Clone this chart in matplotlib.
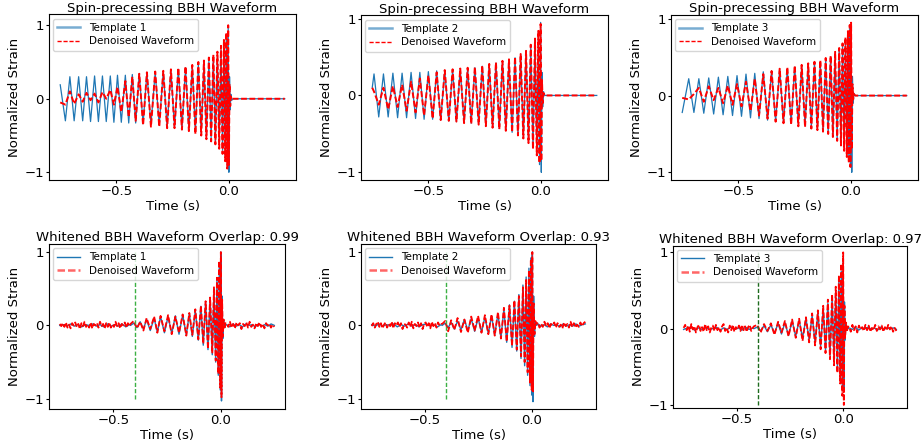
import numpy as np
import matplotlib
matplotlib.use("Agg")
import matplotlib.pyplot as plt

plt.rcParams['font.family'] = ['DejaVu Sans']

# ---------------- data (extrema) ----------------
TOP_TITLE = "Spin-precessing BBH Waveform"
BOTTOM_TITLES = ["Whitened BBH Waveform Overlap: 0.99",
                 "Whitened BBH Waveform Overlap: 0.93",
                 "Whitened BBH Waveform Overlap: 0.97"]
TEMPLATE_LABELS = ["Template 1", "Template 2", "Template 3"]
DENOISED_LABEL = "Denoised Waveform"
X_TICKS = [-0.5, 0.0]
Y_TICKS = [-1, 0, 1]
MARK_TIME = -0.4
MARK_SPAN = [-1.0, 1.0]
X_LIM = [-0.80, 0.30]
TOP_YLIMS = [[-1.105, 1.146], [-1.10, 1.04], [-1.10, 1.05]]
BOT_YLIMS = [[-1.14, 1.11], [-1.14, 1.11], [-1.04, 1.09]]

# --- top row panel 1
T1_TIME = [-0.750, -0.727, -0.707, -0.688, -0.668, -0.650, -0.633, -0.615, -0.597, -0.580,
           -0.562, -0.545, -0.527, -0.511, -0.495, -0.478, -0.460, -0.445, -0.429, -0.414,
           -0.398, -0.381, -0.364, -0.346, -0.327, -0.309, -0.291, -0.274, -0.257, -0.241,
           -0.224, -0.208, -0.192, -0.177, -0.162, -0.148, -0.135, -0.122, -0.110, -0.099,
           -0.088, -0.078, -0.068, -0.059, -0.050, -0.042, -0.034, -0.027, -0.021, -0.015,
           -0.010, -0.006, -0.002, 0.001, 0.004, 0.007, 0.010, 0.014, 0.020, 0.250]
T1_TEMPLATE = [0.19, -0.30, 0.30, -0.30, 0.30, -0.30, 0.30, -0.31, 0.31, -0.31,
               0.31, -0.31, 0.31, -0.32, 0.32, -0.32, 0.32, -0.33, 0.33, -0.33,
               0.34, -0.34, 0.35, -0.35, 0.36, -0.36, 0.37, -0.38, 0.38, -0.39,
               0.40, -0.41, 0.42, -0.43, 0.44, -0.45, 0.46, -0.47, 0.48, -0.50,
               0.51, -0.53, 0.55, -0.57, 0.59, -0.62, 0.66, -0.70, 0.75, -0.80,
               0.86, -0.92, 0.97, -1.00, 0.30, -0.15, 0.06, -0.02, 0.00, 0.00]
T1_DENOISED = [-0.05, -0.08, 0.10, -0.07, 0.06, -0.04, 0.08, -0.02, 0.07, -0.05,
               0.09, 0.00, 0.12, -0.08, 0.16, -0.18, 0.24, -0.25, 0.30, -0.30,
               0.34, -0.36, 0.36, -0.38, 0.37, -0.38, 0.38, -0.40, 0.40, -0.40,
               0.42, -0.42, 0.44, -0.44, 0.46, -0.48, 0.50, -0.50, 0.52, -0.55,
               0.56, -0.58, 0.60, -0.62, 0.64, -0.68, 0.72, -0.75, 0.80, -0.85,
               0.90, -0.95, 1.00, -0.90, 0.20, -0.10, 0.03, -0.01, 0.00, 0.00]

# --- top row panel 2
T2_TIME = [-0.750, -0.742, -0.721, -0.700, -0.679, -0.658, -0.637, -0.617, -0.597, -0.577,
           -0.557, -0.538, -0.519, -0.500, -0.481, -0.463, -0.445, -0.427, -0.409, -0.392,
           -0.375, -0.358, -0.341, -0.325, -0.309, -0.293, -0.276, -0.260, -0.244, -0.229,
           -0.214, -0.199, -0.184, -0.170, -0.155, -0.141, -0.127, -0.114, -0.101, -0.089,
           -0.077, -0.065, -0.054, -0.044, -0.034, -0.025, -0.017, -0.010, -0.005, 0.000,
           0.003, 0.006, 0.009, 0.013, 0.018, 0.250]
T2_TEMPLATE = [0.10, 0.28, -0.28, 0.28, -0.28, 0.29, -0.29, 0.29, -0.29, 0.30,
               -0.30, 0.30, -0.31, 0.31, -0.31, 0.32, -0.32, 0.32, -0.33, 0.33,
               -0.34, 0.34, -0.35, 0.35, -0.36, 0.36, -0.37, 0.38, -0.39, 0.40,
               -0.41, 0.42, -0.43, 0.44, -0.45, 0.46, -0.48, 0.49, -0.51, 0.53,
               -0.55, 0.57, -0.60, 0.63, -0.67, 0.72, -0.78, 0.84, -0.90, 0.95,
               -1.00, 0.30, -0.15, 0.05, 0.00, 0.00]
T2_DENOISED = [0.10, 0.05, -0.12, 0.10, -0.18, 0.12, -0.15, 0.14, -0.20, 0.18,
               -0.22, 0.22, -0.26, 0.26, -0.30, 0.30, -0.32, 0.33, -0.33, 0.34,
               -0.34, 0.35, -0.36, 0.36, -0.37, 0.37, -0.38, 0.39, -0.40, 0.41,
               -0.42, 0.43, -0.44, 0.45, -0.46, 0.47, -0.48, 0.50, -0.52, 0.54,
               -0.56, 0.58, -0.62, 0.66, -0.70, 0.74, -0.78, 0.84, -0.88, 0.93,
               -0.85, 0.20, -0.10, 0.03, 0.00, 0.00]

# --- top row panel 3
T3_TIME = [-0.750, -0.721, -0.698, -0.676, -0.654, -0.632, -0.610, -0.589, -0.568, -0.547,
           -0.526, -0.506, -0.486, -0.466, -0.446, -0.427, -0.408, -0.389, -0.370, -0.352,
           -0.334, -0.316, -0.299, -0.282, -0.265, -0.249, -0.233, -0.218, -0.203, -0.189,
           -0.175, -0.161, -0.148, -0.135, -0.123, -0.111, -0.100, -0.089, -0.079, -0.069,
           -0.060, -0.051, -0.043, -0.036, -0.029, -0.023, -0.017, -0.012, -0.008, -0.004,
           -0.001, 0.002, 0.005, 0.008, 0.011, 0.015, 0.020, 0.250]
T3_TEMPLATE = [-0.22, 0.22, -0.22, 0.22, -0.23, 0.23, -0.24, 0.24, -0.25, 0.25,
               -0.26, 0.26, -0.27, 0.28, -0.29, 0.29, -0.30, 0.31, -0.32, 0.32,
               -0.33, 0.34, -0.35, 0.35, -0.36, 0.37, -0.37, 0.38, -0.39, 0.40,
               -0.41, 0.42, -0.43, 0.44, -0.45, 0.47, -0.48, 0.50, -0.52, 0.54,
               -0.56, 0.58, -0.61, 0.64, -0.68, 0.72, -0.76, 0.80, -0.85, 0.88,
               -0.92, 0.93, -1.00, 0.25, -0.10, 0.03, 0.00, 0.00]
T3_DENOISED = [-0.03, -0.05, 0.02, 0.10, -0.08, 0.12, -0.06, 0.10, -0.10, 0.13,
               -0.12, 0.15, -0.14, 0.18, -0.20, 0.22, -0.26, 0.28, -0.30, 0.32,
               -0.34, 0.35, -0.36, 0.37, -0.38, 0.39, -0.40, 0.40, -0.41, 0.42,
               -0.43, 0.44, -0.45, 0.46, -0.47, 0.49, -0.50, 0.52, -0.54, 0.57,
               -0.59, 0.62, -0.65, 0.68, -0.72, 0.76, -0.80, 0.84, -0.88, 0.92,
               -0.93, 0.95, -0.70, 0.15, -0.05, 0.02, 0.00, 0.00]

# --- bottom row (whitened): signal extrema + noise samples before/after
PRE_RANGE = [-0.750, -0.425]
POST_RANGE = [0.028, 0.250]

B1_SIG_TIME = [-0.420, -0.405, -0.390, -0.375, -0.360, -0.345, -0.328, -0.310, -0.295, -0.280,
               -0.262, -0.245, -0.228, -0.211, -0.194, -0.177, -0.160, -0.146, -0.132, -0.118,
               -0.104, -0.092, -0.081, -0.070, -0.059, -0.049, -0.039, -0.031, -0.023, -0.017,
               -0.011, -0.006, -0.002, 0.001, 0.004, 0.007, 0.010, 0.014, 0.018, 0.022]
B1_SIG_TEMPLATE = [0.00, 0.03, -0.03, 0.05, -0.05, 0.08, -0.07, 0.10, -0.09, 0.12,
                   -0.10, 0.12, -0.11, 0.13, -0.12, 0.14, -0.13, 0.16, -0.15, 0.20,
                   -0.20, 0.26, -0.27, 0.31, -0.33, 0.37, -0.40, 0.50, -0.50, 0.62,
                   -0.68, 0.85, -0.88, 1.00, -1.03, 0.40, -0.18, 0.07, -0.03, 0.00]
B1_SIG_DENOISED = [0.02, 0.06, -0.04, 0.05, -0.07, 0.10, -0.05, 0.12, -0.10, 0.13,
                   -0.08, 0.14, -0.12, 0.12, -0.10, 0.15, -0.14, 0.17, -0.13, 0.22,
                   -0.19, 0.27, -0.25, 0.33, -0.32, 0.38, -0.38, 0.52, -0.48, 0.65,
                   -0.66, 0.88, -0.85, 1.00, -0.98, 0.35, -0.15, 0.08, -0.05, 0.03]
B1_PRE_DENOISED = [0.02, -0.01, 0.03, -0.02, 0.04, -0.03, 0.01, -0.04, 0.03, 0.00,
                   0.04, -0.02, 0.02, -0.05, 0.03, -0.01, 0.05, -0.02, 0.01, -0.03,
                   0.04, -0.04, 0.02, 0.00, 0.03, -0.03, 0.05, -0.01, 0.02, -0.04,
                   0.03, -0.02, 0.04, -0.03, 0.01, -0.02, 0.05, -0.01, 0.03, -0.04,
                   0.02, 0.00, 0.04, -0.03, 0.03, -0.01]
B1_PRE_TEMPLATE = [0.00, 0.01, -0.01, 0.02, -0.01, 0.01, -0.02, 0.01, 0.00, 0.02,
                   -0.01, 0.01, -0.02, 0.02, -0.01, 0.01, -0.01, 0.02, -0.02, 0.01]
B1_POST_DENOISED = [0.03, -0.02, 0.05, -0.03, 0.02, -0.04, 0.04, 0.00, 0.03, -0.05,
                    0.02, -0.01, 0.04, -0.03, 0.05, -0.02, 0.01, -0.04, 0.03, -0.01,
                    0.04, -0.02, 0.02, -0.04, 0.03, 0.00, 0.02, -0.03, 0.01, -0.02]
B1_POST_TEMPLATE = [0.01, -0.02, 0.02, -0.01, 0.01, -0.02, 0.02, 0.00, 0.01, -0.02,
                    0.02, -0.01, 0.01, -0.01, 0.02, 0.00]

B2_SIG_TIME = [-0.420, -0.406, -0.392, -0.378, -0.363, -0.348, -0.332, -0.316, -0.300, -0.284,
               -0.268, -0.252, -0.236, -0.220, -0.204, -0.189, -0.174, -0.159, -0.145, -0.131,
               -0.118, -0.105, -0.093, -0.082, -0.071, -0.061, -0.051, -0.042, -0.034, -0.027,
               -0.020, -0.014, -0.009, -0.005, -0.001, 0.002, 0.005, 0.008, 0.012, 0.016, 0.022]
B2_SIG_TEMPLATE = [0.00, 0.03, -0.03, 0.04, -0.05, 0.06, -0.06, 0.08, -0.07, 0.09,
                   -0.08, 0.10, -0.09, 0.11, -0.11, 0.13, -0.13, 0.16, -0.17, 0.22,
                   -0.23, 0.28, -0.30, 0.33, -0.35, 0.42, -0.45, 0.55, -0.55, 0.66,
                   -0.68, 0.78, -0.82, 0.92, -0.95, 1.00, -1.04, 0.40, -0.15, 0.05, 0.00]
B2_SIG_DENOISED = [0.02, 0.06, -0.08, 0.07, -0.06, 0.10, -0.09, 0.08, -0.10, 0.12,
                   -0.07, 0.13, -0.10, 0.14, -0.12, 0.15, -0.14, 0.18, -0.18, 0.24,
                   -0.22, 0.27, -0.28, 0.34, -0.33, 0.40, -0.42, 0.52, -0.50, 0.62,
                   -0.64, 0.75, -0.78, 0.90, -0.88, 1.00, -0.90, 0.30, -0.12, 0.06, 0.02]
B2_PRE_DENOISED = [-0.01, 0.03, -0.03, 0.02, 0.05, -0.02, 0.03, -0.04, 0.01, 0.04,
                   -0.03, 0.02, -0.01, 0.05, -0.04, 0.03, 0.00, 0.04, -0.02, 0.03,
                   -0.05, 0.02, 0.01, -0.03, 0.04, -0.02, 0.05, -0.04, 0.02, -0.01,
                   0.04, -0.03, 0.03, -0.05, 0.02, 0.04, -0.02, 0.03, -0.04, 0.05,
                   -0.01, 0.03, -0.03, 0.04, 0.00, 0.02]
B2_PRE_TEMPLATE = [0.01, -0.01, 0.02, -0.01, 0.01, 0.00, 0.02, -0.02, 0.01, -0.01,
                   0.02, -0.01, 0.01, -0.02, 0.01, 0.02, -0.01, 0.01, -0.02, 0.01]
B2_POST_DENOISED = [0.04, -0.03, 0.02, -0.02, 0.05, -0.01, 0.03, -0.04, 0.02, 0.00,
                    0.04, -0.03, 0.03, -0.02, 0.01, -0.04, 0.04, -0.01, 0.02, -0.03,
                    0.05, -0.02, 0.03, -0.03, 0.01, -0.02, 0.04, -0.01, 0.03, 0.05]
B2_POST_TEMPLATE = [0.02, -0.01, 0.01, -0.02, 0.02, 0.00, 0.01, -0.02, 0.02, -0.01,
                    0.01, -0.01, 0.02, -0.01, 0.01, 0.02]

B3_SIG_TIME = [-0.420, -0.404, -0.388, -0.372, -0.356, -0.340, -0.323, -0.306, -0.290, -0.274,
               -0.257, -0.240, -0.223, -0.207, -0.191, -0.175, -0.160, -0.146, -0.132, -0.119,
               -0.106, -0.094, -0.083, -0.072, -0.062, -0.052, -0.043, -0.035, -0.027, -0.020,
               -0.014, -0.009, -0.004, 0.000, 0.003, 0.006, 0.009, 0.013, 0.017, 0.022]
B3_SIG_TEMPLATE = [0.00, 0.02, -0.03, 0.04, -0.04, 0.05, -0.06, 0.07, -0.07, 0.08,
                   -0.09, 0.10, -0.10, 0.11, -0.12, 0.13, -0.14, 0.17, -0.18, 0.21,
                   -0.23, 0.27, -0.28, 0.33, -0.35, 0.40, -0.43, 0.50, -0.52, 0.62,
                   -0.65, 0.75, -0.78, 0.88, -0.80, 0.35, -0.15, 0.06, -0.02, 0.00]
B3_SIG_DENOISED = [0.03, 0.05, -0.05, 0.06, -0.03, 0.07, -0.08, 0.09, -0.05, 0.10,
                   -0.10, 0.12, -0.12, 0.13, -0.16, 0.15, -0.18, 0.20, -0.22, 0.24,
                   -0.27, 0.30, -0.32, 0.38, -0.40, 0.45, -0.48, 0.55, -0.58, 0.70,
                   -0.72, 0.85, -0.88, 1.00, -1.00, 0.30, -0.12, 0.08, -0.04, 0.03]
B3_PRE_DENOISED = [0.01, 0.05, -0.02, 0.04, -0.04, 0.06, -0.01, 0.03, -0.05, 0.02,
                   0.05, -0.03, 0.02, -0.04, 0.06, -0.02, 0.03, -0.05, 0.01, 0.04,
                   -0.03, 0.05, -0.02, 0.02, -0.04, 0.03, 0.06, -0.03, 0.01, -0.05,
                   0.04, -0.02, 0.05, -0.04, 0.02, -0.01, 0.04, -0.03, 0.05, -0.02,
                   0.03, -0.04, 0.02, 0.05, -0.03, 0.01]
B3_PRE_TEMPLATE = [-0.01, 0.01, 0.02, -0.02, 0.01, -0.01, 0.02, -0.01, 0.00, 0.02,
                   -0.02, 0.01, -0.01, 0.02, -0.01, 0.01, -0.02, 0.02, -0.01, 0.01]
B3_POST_DENOISED = [0.02, -0.04, 0.05, -0.02, 0.03, -0.05, 0.04, -0.01, 0.02, -0.03,
                    0.05, -0.02, 0.04, -0.04, 0.01, -0.02, 0.05, -0.03, 0.03, -0.01,
                    0.04, -0.04, 0.02, -0.02, 0.05, -0.01, 0.03, -0.04, 0.01, -0.03]
B3_POST_TEMPLATE = [0.01, -0.01, 0.02, -0.02, 0.01, 0.00, 0.02, -0.01, 0.01, -0.02,
                    0.02, -0.01, 0.01, 0.00, 0.01, -0.01]

MARK_COLORS = ["#3cb043", "#3cb043", "#1e6b1e"]

# ---------------- figure ----------------
W, H = 922, 448
fig = plt.figure(figsize=(W / 100, H / 100), dpi=100)


def rect(x0, x1, y0, y1):
    return [x0 / W, 1 - y1 / H, (x1 - x0) / W, (y1 - y0) / H]


top_rects = [rect(49, 296, 14.5, 180), rect(361, 608, 15.5, 180), rect(671, 918, 15, 180)]
bot_rects = [rect(49, 285, 244, 409), rect(361, 596, 244, 409), rect(673, 907, 245.5, 408)]

FS = 9.5
LFS = 7.5

top_data = [(T1_TIME, T1_TEMPLATE, T1_DENOISED),
            (T2_TIME, T2_TEMPLATE, T2_DENOISED),
            (T3_TIME, T3_TEMPLATE, T3_DENOISED)]

bot_data = [(B1_SIG_TIME, B1_SIG_TEMPLATE, B1_SIG_DENOISED, B1_PRE_TEMPLATE, B1_PRE_DENOISED,
             B1_POST_TEMPLATE, B1_POST_DENOISED),
            (B2_SIG_TIME, B2_SIG_TEMPLATE, B2_SIG_DENOISED, B2_PRE_TEMPLATE, B2_PRE_DENOISED,
             B2_POST_TEMPLATE, B2_POST_DENOISED),
            (B3_SIG_TIME, B3_SIG_TEMPLATE, B3_SIG_DENOISED, B3_PRE_TEMPLATE, B3_PRE_DENOISED,
             B3_POST_TEMPLATE, B3_POST_DENOISED)]


def style_axes(ax, ylim):
    ax.set_xlim(X_LIM)
    ax.set_ylim(ylim)
    ax.set_xticks(X_TICKS)
    ax.set_yticks(Y_TICKS)
    ax.tick_params(labelsize=FS, length=2.2, width=0.8, pad=1.5)
    ax.set_ylabel("Normalized Strain", fontsize=FS, labelpad=2)
    ax.set_xlabel("Time (s)", fontsize=FS, labelpad=1)
    for s in ax.spines.values():
        s.set_linewidth(0.8)


for i in range(3):
    t, tmpl, den = top_data[i]
    ax = fig.add_axes(top_rects[i])
    ax.plot(t, tmpl, color="#1f77b4", lw=0.9, label=TEMPLATE_LABELS[i])
    ax.plot(t, den, color="red", lw=1.4, ls="--", dashes=(3, 1.3), label=DENOISED_LABEL)
    ax.set_title(TOP_TITLE, fontsize=FS, pad=2)
    style_axes(ax, TOP_YLIMS[i])
    leg = ax.legend(loc="upper left", fontsize=LFS, handlelength=2.2,
                    borderaxespad=0.4, labelspacing=0.35)
    h = leg.get_lines()
    h[0].set_linewidth(1.8)
    h[0].set_alpha(0.6)
    h[1].set_linewidth(1.0)

for i in range(3):
    st, stmpl, sden, pre_t, pre_d, post_t, post_d = bot_data[i]
    ax = fig.add_axes(bot_rects[i])
    pre_td = np.linspace(PRE_RANGE[0], PRE_RANGE[1], len(pre_t))
    pre_dd = np.linspace(PRE_RANGE[0], PRE_RANGE[1], len(pre_d))
    post_td = np.linspace(POST_RANGE[0], POST_RANGE[1], len(post_t))
    post_dd = np.linspace(POST_RANGE[0], POST_RANGE[1], len(post_d))
    tt = np.concatenate([pre_td, st, post_td])
    vt = np.concatenate([pre_t, stmpl, post_t])
    td = np.concatenate([pre_dd, st, post_dd])
    vd = np.concatenate([pre_d, sden, post_d])
    ax.plot(tt, vt, color="#1f77b4", lw=1.0, label=TEMPLATE_LABELS[i])
    ax.plot(td, vd, color="red", lw=1.3, ls="--", dashes=(3, 1.2), label=DENOISED_LABEL)
    ax.plot([MARK_TIME, MARK_TIME], MARK_SPAN, color=MARK_COLORS[i], lw=1.0, ls="--",
            dashes=(3, 1.5))
    ax.set_title(BOTTOM_TITLES[i], fontsize=FS, pad=2)
    style_axes(ax, BOT_YLIMS[i])
    leg = ax.legend(loc="upper left", fontsize=LFS, handlelength=2.2,
                    borderaxespad=0.4, labelspacing=0.35)
    h = leg.get_lines()
    h[1].set_linewidth(1.8)
    h[1].set_alpha(0.6)

fig.savefig("out.png", dpi=100)
